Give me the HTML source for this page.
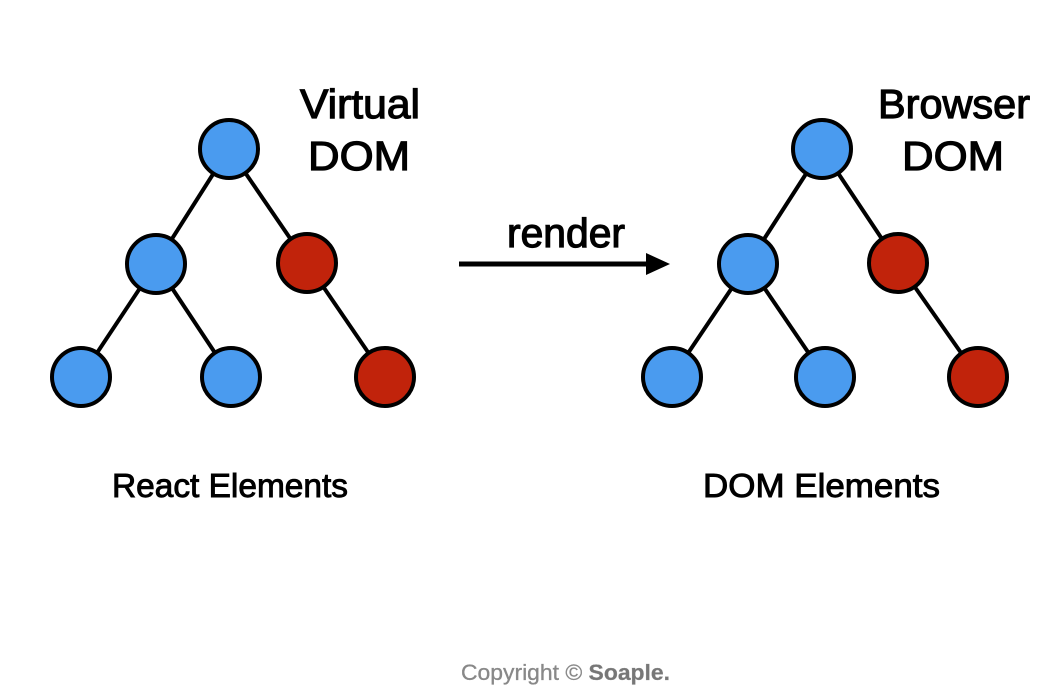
<!DOCTYPE html>
<html><head><meta charset="utf-8"><style>
html,body{margin:0;padding:0;background:#fff;}
svg{display:block;}
text{font-family:"Liberation Sans",sans-serif;}
</style></head><body>
<svg width="1051" height="697" viewBox="0 0 1051 697" xmlns="http://www.w3.org/2000/svg">
<g stroke="#000" stroke-width="4">
<line x1="229" y1="149" x2="156" y2="264"/><line x1="229" y1="149" x2="307" y2="263"/>
<line x1="156" y1="264" x2="81" y2="377"/><line x1="156" y1="264" x2="231" y2="377"/>
<line x1="307" y1="263" x2="385" y2="377"/>
<line x1="822" y1="149" x2="748" y2="264"/><line x1="822" y1="149" x2="898" y2="263"/>
<line x1="748" y1="264" x2="672" y2="377"/><line x1="748" y1="264" x2="825" y2="377"/>
<line x1="898" y1="263" x2="978" y2="377"/>
</g>
<g stroke="#000" stroke-width="4">
<circle cx="229" cy="149" r="29" fill="#4a9bef"/>
<circle cx="156" cy="264" r="29" fill="#4a9bef"/>
<circle cx="307" cy="263" r="29" fill="#c1230b"/>
<circle cx="81" cy="377" r="29" fill="#4a9bef"/>
<circle cx="231" cy="377" r="29" fill="#4a9bef"/>
<circle cx="385" cy="377" r="29" fill="#c1230b"/>
<circle cx="822" cy="149" r="29" fill="#4a9bef"/>
<circle cx="748" cy="264" r="29" fill="#4a9bef"/>
<circle cx="898" cy="263" r="29" fill="#c1230b"/>
<circle cx="672" cy="377" r="29" fill="#4a9bef"/>
<circle cx="825" cy="377" r="29" fill="#4a9bef"/>
<circle cx="978" cy="377" r="29" fill="#c1230b"/>
</g>
<line x1="459" y1="264" x2="650" y2="264" stroke="#000" stroke-width="5"/>
<polygon points="646,253 670,264 646,275" fill="#000"/>
<g font-size="41" fill="#000" stroke="#000" stroke-width="1.2">
<text x="300" y="118" textLength="120" lengthAdjust="spacingAndGlyphs">Virtual</text>
<text x="308" y="170" textLength="102" lengthAdjust="spacingAndGlyphs">DOM</text>
<text x="878" y="118" textLength="152" lengthAdjust="spacingAndGlyphs">Browser</text>
<text x="902" y="170" textLength="102" lengthAdjust="spacingAndGlyphs">DOM</text>
<text x="507" y="247" textLength="118" lengthAdjust="spacingAndGlyphs">render</text>
</g>
<g font-size="33" fill="#000" stroke="#000" stroke-width="0.9">
<text x="112" y="497" textLength="236" lengthAdjust="spacingAndGlyphs">React Elements</text>
<text x="703" y="497" textLength="237" lengthAdjust="spacingAndGlyphs">DOM Elements</text>
</g>
<text x="461" y="680" font-size="22" fill="#888" stroke="#888" stroke-width="0.3" textLength="209" lengthAdjust="spacingAndGlyphs">Copyright © <tspan font-weight="bold" fill="#777">Soaple.</tspan></text>
</svg>
</body></html>
